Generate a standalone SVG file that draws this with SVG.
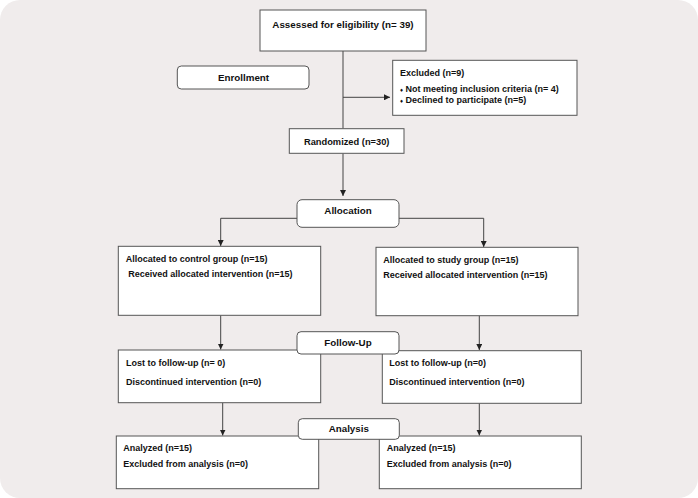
<svg xmlns="http://www.w3.org/2000/svg" width="698" height="498" viewBox="0 0 698 498">
<defs>
<marker id="ah" viewBox="0 0 6 6" refX="6" refY="3" markerWidth="6" markerHeight="6" markerUnits="userSpaceOnUse" orient="auto">
<path d="M0,0 L6,3 L0,6 Z" fill="#222"/>
</marker>
<style>
.bg{fill:#f0ecec;}
.box{fill:#fff;stroke:#555;stroke-width:1;}
.lbl{fill:#fff;stroke:#555;stroke-width:1;}
.ln{fill:none;stroke:#444;stroke-width:1;}
text{font-family:"Liberation Sans",Arial,sans-serif;font-weight:bold;fill:#111;}
.h{font-size:9.8px;text-anchor:middle;}
.t{font-size:9px;}
</style>
</defs>
<rect class="bg" x="0" y="0" width="698" height="498" rx="20" ry="20"/>
<g id="connectors">
<path class="ln" d="M343,51 V128.5"/>
<path class="ln" d="M343,97.3 H390" marker-end="url(#ah)"/>
<path class="ln" d="M343,153.5 V196" marker-end="url(#ah)"/>
<path class="ln" d="M297,218.3 H220.7 V246" marker-end="url(#ah)"/>
<path class="ln" d="M399,218.3 H483.7 V247" marker-end="url(#ah)"/>
<path class="ln" d="M220.7,315.3 V349.5" marker-end="url(#ah)"/>
<path class="ln" d="M479.3,315.7 V350" marker-end="url(#ah)"/>
<path class="ln" d="M222.7,402.7 V435.5" marker-end="url(#ah)"/>
<path class="ln" d="M479.3,403.3 V435.5" marker-end="url(#ah)"/>
</g>
<g id="assessed">
<rect class="box" x="260" y="10" width="166" height="41"/>
<text class="h" x="343" y="27.5">Assessed for eligibility (n= 39)</text>
</g>
<g id="enrollment">
<rect class="lbl" x="177.3" y="66" width="131.7" height="23" rx="4"/>
<text class="h" x="243.5" y="80.8">Enrollment</text>
</g>
<g id="excluded">
<rect class="box" x="392.7" y="60.3" width="184.3" height="55"/>
<text class="t" x="400" y="75.5">Excluded (n=9)</text>
<text class="t" x="400" y="91.5"><tspan font-size="6">♦</tspan> Not meeting inclusion criteria (n= 4)</text>
<text class="t" x="400" y="102.8"><tspan font-size="6">♦</tspan> Declined to participate (n=5)</text>
</g>
<g id="randomized">
<rect class="box" x="289.3" y="128.7" width="114.7" height="24.6"/>
<text class="h" x="346.7" y="145" style="font-size:9.3px">Randomized (n=30)</text>
</g>
<g id="allocation">
<rect class="lbl" x="297" y="199.7" width="102" height="27.6" rx="5"/>
<text class="h" x="348" y="213.5">Allocation</text>
</g>
<g id="control">
<rect class="box" x="118.3" y="246.3" width="202.4" height="69"/>
<text class="t" x="125.7" y="262">Allocated to control group (n=15)</text>
<text class="t" x="128.3" y="277.3">Received allocated intervention (n=15)</text>
</g>
<g id="study">
<rect class="box" x="376" y="247.3" width="202" height="68.4"/>
<text class="t" x="383.3" y="262.7">Allocated to study group (n=15)</text>
<text class="t" x="383.3" y="278">Received allocated intervention (n=15)</text>
</g>
<g id="lost-control">
<rect class="box" x="118.3" y="350" width="202.4" height="52.7"/>
<text class="t" x="126" y="366">Lost to follow-up (n= 0)</text>
<text class="t" x="126" y="385">Discontinued intervention (n=0)</text>
</g>
<g id="lost-study">
<rect class="box" x="382.3" y="350.7" width="199" height="52.6"/>
<text class="t" x="389.3" y="366">Lost to follow-up (n=0)</text>
<text class="t" x="389.3" y="385">Discontinued intervention (n=0)</text>
</g>
<g id="followup">
<rect class="lbl" x="297" y="331.7" width="102" height="22.3" rx="4"/>
<text class="h" x="348" y="345.5">Follow-Up</text>
</g>
<g id="analyzed-control">
<rect class="box" x="116.3" y="436" width="202.4" height="52.7"/>
<text class="t" x="123.3" y="451">Analyzed (n=15)</text>
<text class="t" x="123.3" y="467">Excluded from analysis (n=0)</text>
</g>
<g id="analyzed-study">
<rect class="box" x="379.3" y="436" width="202" height="52.7"/>
<text class="t" x="386.7" y="451">Analyzed (n=15)</text>
<text class="t" x="386.7" y="467">Excluded from analysis (n=0)</text>
</g>
<g id="analysis">
<rect class="lbl" x="298.3" y="418.7" width="101" height="20.6" rx="4"/>
<text class="h" x="348.8" y="432">Analysis</text>
</g>
</svg>
